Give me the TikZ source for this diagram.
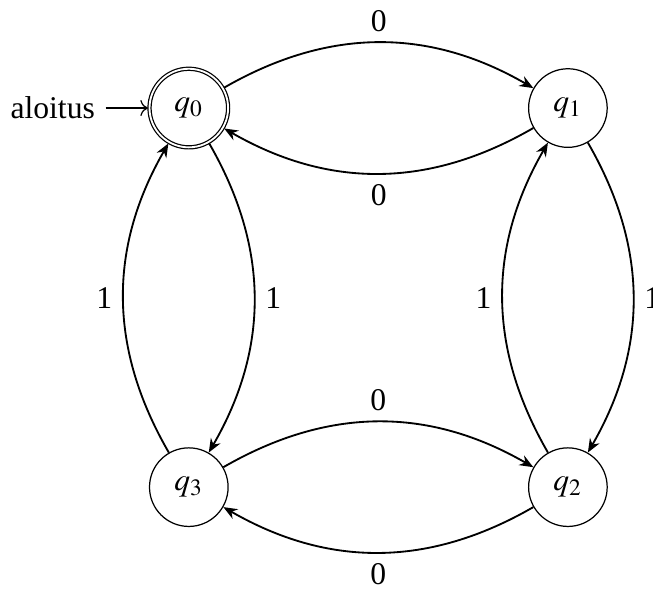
\documentclass[tikz,border=0pt]{standalone}
\usepackage{mathptmx}
\usepackage{fontspec}
\setmainfont{Liberation Serif}
\usetikzlibrary{automata,positioning,arrows.meta}
\tikzset{
  every state/.style={minimum size=25.6pt},
  trans/.style={->,>={Stealth[length=4.5pt,width=3.6pt]},semithick,bend left,auto}
}
\begin{document}
\begin{tikzpicture}[node distance=4.34cm,on grid,initial text=aloitus,
  font=\fontsize{10.3pt}{12.4pt}\selectfont]
\useasboundingbox (-61.5pt,-156.4pt) rectangle (151.2pt,35.2pt);
\node[state,initial,accepting] (q0) at (0,0) {$q_0$};
\node[state] (q1) [right=of q0] {$q_1$};
\node[state] (q2) [below=of q1] {$q_2$};
\node[state] (q3) [below=of q0] {$q_3$};
\path
(q0) edge[trans] node {0} (q1)
(q1) edge[trans] node {0} (q0)
(q1) edge[trans] node {1} (q2)
(q2) edge[trans] node {1} (q1)
(q2) edge[trans] node {0} (q3)
(q3) edge[trans] node {0} (q2)
(q3) edge[trans] node {1} (q0)
(q0) edge[trans] node {1} (q3);
\end{tikzpicture}
\end{document}
